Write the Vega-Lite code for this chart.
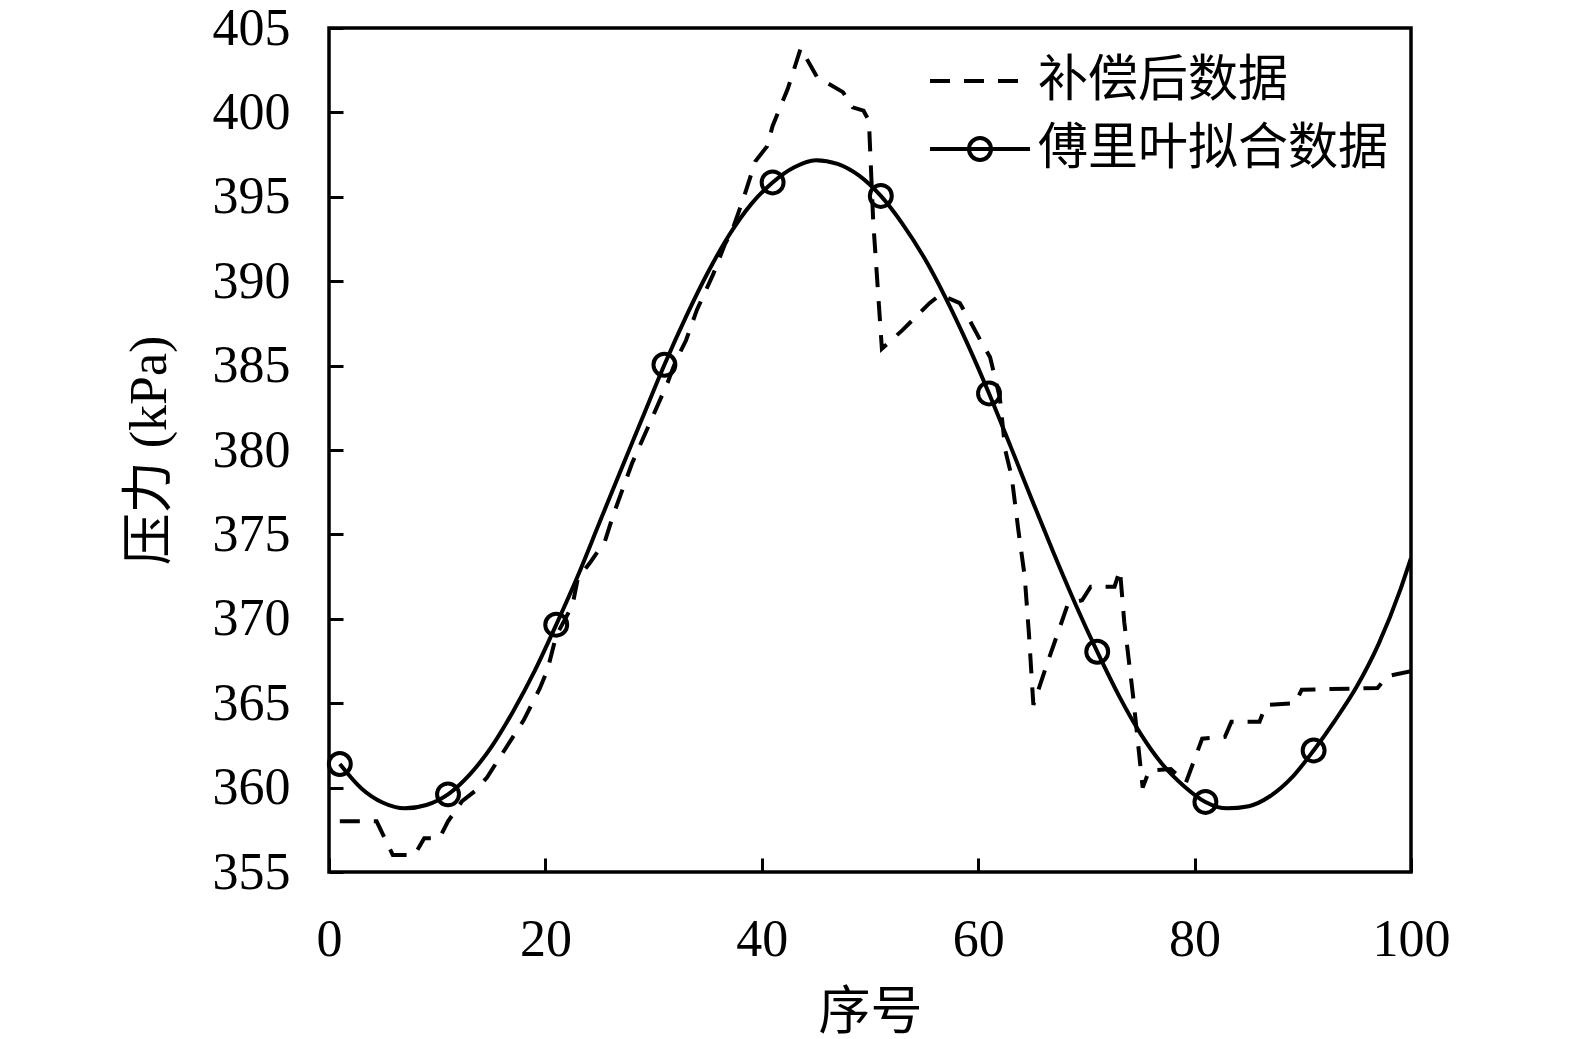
{
  "$schema": "https://vega.github.io/schema/vega-lite/v6.json",
  "autosize": {"type": "none"},
  "width": 1082,
  "height": 844,
  "padding": {"left": 329, "top": 28, "right": 164, "bottom": 167},
  "background": "white",
  "data": {
    "values": [
      {"x": 1, "y": 358, "series": "补偿后数据"},
      {"x": 4.4, "y": 358, "series": "补偿后数据"},
      {"x": 5.9, "y": 356, "series": "补偿后数据"},
      {"x": 7.9, "y": 356, "series": "补偿后数据"},
      {"x": 8.8, "y": 357, "series": "补偿后数据"},
      {"x": 10.2, "y": 357, "series": "补偿后数据"},
      {"x": 11, "y": 358, "series": "补偿后数据"},
      {"x": 12.3, "y": 359.2, "series": "补偿后数据"},
      {"x": 13.5, "y": 359.8, "series": "补偿后数据"},
      {"x": 14.6, "y": 360.6, "series": "补偿后数据"},
      {"x": 16, "y": 362, "series": "补偿后数据"},
      {"x": 18, "y": 364, "series": "补偿后数据"},
      {"x": 19.5, "y": 365.9, "series": "补偿后数据"},
      {"x": 20.2, "y": 367, "series": "补偿后数据"},
      {"x": 21, "y": 369, "series": "补偿后数据"},
      {"x": 22.5, "y": 370.8, "series": "补偿后数据"},
      {"x": 23, "y": 372.4, "series": "补偿后数据"},
      {"x": 24.1, "y": 373.3, "series": "补偿后数据"},
      {"x": 25.5, "y": 374.6, "series": "补偿后数据"},
      {"x": 26.3, "y": 376.2, "series": "补偿后数据"},
      {"x": 28, "y": 379.2, "series": "补偿后数据"},
      {"x": 30, "y": 382.1, "series": "补偿后数据"},
      {"x": 31.3, "y": 384, "series": "补偿后数据"},
      {"x": 32, "y": 385.2, "series": "补偿后数据"},
      {"x": 33, "y": 386.5, "series": "补偿后数据"},
      {"x": 34, "y": 388.3, "series": "补偿后数据"},
      {"x": 35.5, "y": 390.4, "series": "补偿后数据"},
      {"x": 36.6, "y": 392.2, "series": "补偿后数据"},
      {"x": 37.2, "y": 392.9, "series": "补偿后数据"},
      {"x": 38.3, "y": 394.9, "series": "补偿后数据"},
      {"x": 39.4, "y": 397.1, "series": "补偿后数据"},
      {"x": 40.5, "y": 398, "series": "补偿后数据"},
      {"x": 41, "y": 399.2, "series": "补偿后数据"},
      {"x": 42.4, "y": 401.4, "series": "补偿后数据"},
      {"x": 43.6, "y": 403.8, "series": "补偿后数据"},
      {"x": 45.1, "y": 402.1, "series": "补偿后数据"},
      {"x": 47.5, "y": 401.2, "series": "补偿后数据"},
      {"x": 48.4, "y": 400.3, "series": "补偿后数据"},
      {"x": 49.4, "y": 400.1, "series": "补偿后数据"},
      {"x": 49.9, "y": 399.5, "series": "补偿后数据"},
      {"x": 50.3, "y": 393.5, "series": "补偿后数据"},
      {"x": 51.1, "y": 386, "series": "补偿后数据"},
      {"x": 53, "y": 387.1, "series": "补偿后数据"},
      {"x": 55.5, "y": 388.7, "series": "补偿后数据"},
      {"x": 56.5, "y": 389.2, "series": "补偿后数据"},
      {"x": 58.3, "y": 388.7, "series": "补偿后数据"},
      {"x": 59.2, "y": 387.7, "series": "补偿后数据"},
      {"x": 60.2, "y": 386.5, "series": "补偿后数据"},
      {"x": 61.1, "y": 385.5, "series": "补偿后数据"},
      {"x": 62, "y": 383.1, "series": "补偿后数据"},
      {"x": 62.5, "y": 380, "series": "补偿后数据"},
      {"x": 63.1, "y": 378.4, "series": "补偿后数据"},
      {"x": 63.7, "y": 375.3, "series": "补偿后数据"},
      {"x": 64.3, "y": 372.5, "series": "补偿后数据"},
      {"x": 64.7, "y": 369, "series": "补偿后数据"},
      {"x": 65.1, "y": 364.9, "series": "补偿后数据"},
      {"x": 66.4, "y": 367.4, "series": "补偿后数据"},
      {"x": 67.6, "y": 369.6, "series": "补偿后数据"},
      {"x": 68.3, "y": 370.9, "series": "补偿后数据"},
      {"x": 69.6, "y": 371.1, "series": "补偿后数据"},
      {"x": 70.4, "y": 371.9, "series": "补偿后数据"},
      {"x": 72.6, "y": 371.9, "series": "补偿后数据"},
      {"x": 73.1, "y": 372.9, "series": "补偿后数据"},
      {"x": 73.5, "y": 369.8, "series": "补偿后数据"},
      {"x": 74.3, "y": 365.5, "series": "补偿后数据"},
      {"x": 75.2, "y": 360, "series": "补偿后数据"},
      {"x": 75.8, "y": 361, "series": "补偿后数据"},
      {"x": 77.8, "y": 361.1, "series": "补偿后数据"},
      {"x": 79.2, "y": 360.3, "series": "补偿后数据"},
      {"x": 80.7, "y": 362.9, "series": "补偿后数据"},
      {"x": 82.8, "y": 363, "series": "补偿后数据"},
      {"x": 83.4, "y": 363.9, "series": "补偿后数据"},
      {"x": 86, "y": 363.9, "series": "补偿后数据"},
      {"x": 86.6, "y": 364.9, "series": "补偿后数据"},
      {"x": 89.3, "y": 365, "series": "补偿后数据"},
      {"x": 89.9, "y": 365.8, "series": "补偿后数据"},
      {"x": 96.9, "y": 365.9, "series": "补偿后数据"},
      {"x": 97.8, "y": 366.6, "series": "补偿后数据"},
      {"x": 100, "y": 366.9, "series": "补偿后数据"},
      {"x": 1, "y": 361.4, "series": "傅里叶拟合数据"},
      {"x": 3, "y": 359.95, "series": "傅里叶拟合数据"},
      {"x": 5, "y": 359.1, "series": "傅里叶拟合数据"},
      {"x": 7, "y": 358.77, "series": "傅里叶拟合数据"},
      {"x": 9, "y": 358.97, "series": "傅里叶拟合数据"},
      {"x": 11, "y": 359.6, "series": "傅里叶拟合数据"},
      {"x": 13, "y": 360.77, "series": "傅里叶拟合数据"},
      {"x": 15, "y": 362.4, "series": "傅里叶拟合数据"},
      {"x": 17, "y": 364.5, "series": "傅里叶拟合数据"},
      {"x": 19, "y": 366.9, "series": "傅里叶拟合数据"},
      {"x": 21, "y": 369.65, "series": "傅里叶拟合数据"},
      {"x": 23, "y": 372.55, "series": "傅里叶拟合数据"},
      {"x": 25, "y": 375.7, "series": "傅里叶拟合数据"},
      {"x": 27, "y": 378.85, "series": "傅里叶拟合数据"},
      {"x": 29, "y": 381.95, "series": "傅里叶拟合数据"},
      {"x": 31, "y": 385.05, "series": "傅里叶拟合数据"},
      {"x": 33, "y": 387.9, "series": "傅里叶拟合数据"},
      {"x": 35, "y": 390.5, "series": "傅里叶拟合数据"},
      {"x": 37, "y": 392.75, "series": "傅里叶拟合数据"},
      {"x": 39, "y": 394.55, "series": "傅里叶拟合数据"},
      {"x": 41, "y": 395.85, "series": "傅里叶拟合数据"},
      {"x": 43, "y": 396.75, "series": "傅里叶拟合数据"},
      {"x": 45, "y": 397.17, "series": "傅里叶拟合数据"},
      {"x": 47, "y": 396.95, "series": "傅里叶拟合数据"},
      {"x": 49, "y": 396.25, "series": "傅里叶拟合数据"},
      {"x": 51, "y": 395.05, "series": "傅里叶拟合数据"},
      {"x": 53, "y": 393.4, "series": "傅里叶拟合数据"},
      {"x": 55, "y": 391.4, "series": "傅里叶拟合数据"},
      {"x": 57, "y": 389.0, "series": "傅里叶拟合数据"},
      {"x": 59, "y": 386.3, "series": "傅里叶拟合数据"},
      {"x": 61, "y": 383.35, "series": "傅里叶拟合数据"},
      {"x": 63, "y": 380.2, "series": "傅里叶拟合数据"},
      {"x": 65, "y": 377.0, "series": "傅里叶拟合数据"},
      {"x": 67, "y": 373.85, "series": "傅里叶拟合数据"},
      {"x": 69, "y": 370.85, "series": "傅里叶拟合数据"},
      {"x": 71, "y": 368.05, "series": "傅里叶拟合数据"},
      {"x": 73, "y": 365.45, "series": "傅里叶拟合数据"},
      {"x": 75, "y": 363.2, "series": "傅里叶拟合数据"},
      {"x": 77, "y": 361.4, "series": "傅里叶拟合数据"},
      {"x": 79, "y": 360.1, "series": "傅里叶拟合数据"},
      {"x": 81, "y": 359.15, "series": "傅里叶拟合数据"},
      {"x": 83, "y": 358.77, "series": "傅里叶拟合数据"},
      {"x": 85, "y": 358.9, "series": "傅里叶拟合数据"},
      {"x": 87, "y": 359.5, "series": "傅里叶拟合数据"},
      {"x": 89, "y": 360.6, "series": "傅里叶拟合数据"},
      {"x": 91, "y": 362.2, "series": "傅里叶拟合数据"},
      {"x": 93, "y": 364.0, "series": "傅里叶拟合数据"},
      {"x": 95, "y": 366.0, "series": "傅里叶拟合数据"},
      {"x": 97, "y": 368.5, "series": "傅里叶拟合数据"},
      {"x": 99, "y": 371.7, "series": "傅里叶拟合数据"},
      {"x": 100, "y": 373.6, "series": "傅里叶拟合数据"}
    ]
  },
  "encoding": {
    "x": {
      "field": "x",
      "type": "quantitative",
      "scale": {"domain": [0, 100], "nice": false, "zero": false},
      "axis": {
        "title": "序号",
        "values": [0, 20, 40, 60, 80, 100],
        "titlePadding": 22
      }
    },
    "y": {
      "field": "y",
      "type": "quantitative",
      "scale": {"domain": [355, 405], "nice": false, "zero": false},
      "axis": {
        "title": "压力 (kPa)",
        "values": [355, 360, 365, 370, 375, 380, 385, 390, 395, 400, 405],
        "titlePadding": 36
      }
    }
  },
  "layer": [
    {
      "transform": [{"filter": "datum.series === '补偿后数据'"}],
      "mark": {"type": "line", "color": "black", "strokeWidth": 4, "strokeDash": [20, 14], "clip": true}
    },
    {
      "transform": [{"filter": "datum.series === '傅里叶拟合数据'"}],
      "mark": {"type": "line", "color": "black", "strokeWidth": 4, "interpolate": "monotone", "clip": true}
    },
    {
      "transform": [
        {"filter": "datum.series === '傅里叶拟合数据'"},
        {"filter": "datum.x % 10 === 1"}
      ],
      "mark": {"type": "point", "shape": "circle", "filled": false, "color": "black", "size": 480, "strokeWidth": 4, "opacity": 1}
    },
    {
      "transform": [{"filter": "datum.series === '补偿后数据'"}],
      "mark": {"type": "point", "filled": false, "color": "black", "opacity": 0},
      "encoding": {
        "shape": {
          "field": "series",
          "type": "nominal",
          "scale": {"domain": ["补偿后数据"], "range": ["M-1,0H1"]},
          "legend": {
            "title": null,
            "orient": "none",
            "legendX": 599,
            "legendY": 1,
            "padding": 0,
            "symbolSize": 10000,
            "symbolStrokeWidth": 4,
            "symbolStrokeColor": "black",
            "labelFontSize": 50,
            "labelFont": "Liberation Serif, Noto Sans CJK SC",
            "labelColor": "black",
            "labelOffset": 6,
            "labelLimit": 0,
            "encode": {"symbols": {"update": {"opacity": {"value": 1}}}}
          }
        },
        "strokeDash": {
          "field": "series",
          "type": "nominal",
          "scale": {"domain": ["补偿后数据"], "range": [[20, 14]]}
        }
      }
    },
    {
      "transform": [{"filter": "datum.series === '傅里叶拟合数据'"}],
      "mark": {"type": "point", "filled": false, "color": "black", "opacity": 0},
      "encoding": {
        "shape": {
          "field": "series",
          "type": "nominal",
          "scale": {
            "domain": ["傅里叶拟合数据"],
            "range": ["M-1,0H1M0.22,0A0.22,0.22,0,1,1,-0.22,0A0.22,0.22,0,1,1,0.22,0"]
          },
          "legend": {
            "title": null,
            "orient": "none",
            "legendX": 599,
            "legendY": 69,
            "padding": 0,
            "symbolSize": 10000,
            "symbolStrokeWidth": 4,
            "symbolStrokeColor": "black",
            "labelFontSize": 50,
            "labelFont": "Liberation Serif, Noto Sans CJK SC",
            "labelColor": "black",
            "labelOffset": 6,
            "labelLimit": 0,
            "encode": {"symbols": {"update": {"opacity": {"value": 1}}}}
          }
        }
      }
    }
  ],
  "resolve": {"scale": {"shape": "independent", "strokeDash": "independent"}},
  "config": {
    "view": {"stroke": "black", "strokeWidth": 3.5},
    "axis": {
      "domain": false,
      "grid": false,
      "tickSize": -14,
      "tickWidth": 3,
      "tickColor": "black",
      "labelFont": "Liberation Serif",
      "labelFontSize": 52,
      "labelColor": "black",
      "titleFont": "Liberation Serif, Noto Sans CJK SC",
      "titleFontSize": 52,
      "titleFontWeight": "normal",
      "titleColor": "black"
    },
    "axisX": {"labelPadding": 56, "labelFlush": false},
    "axisY": {"labelPadding": 53}
  }
}
